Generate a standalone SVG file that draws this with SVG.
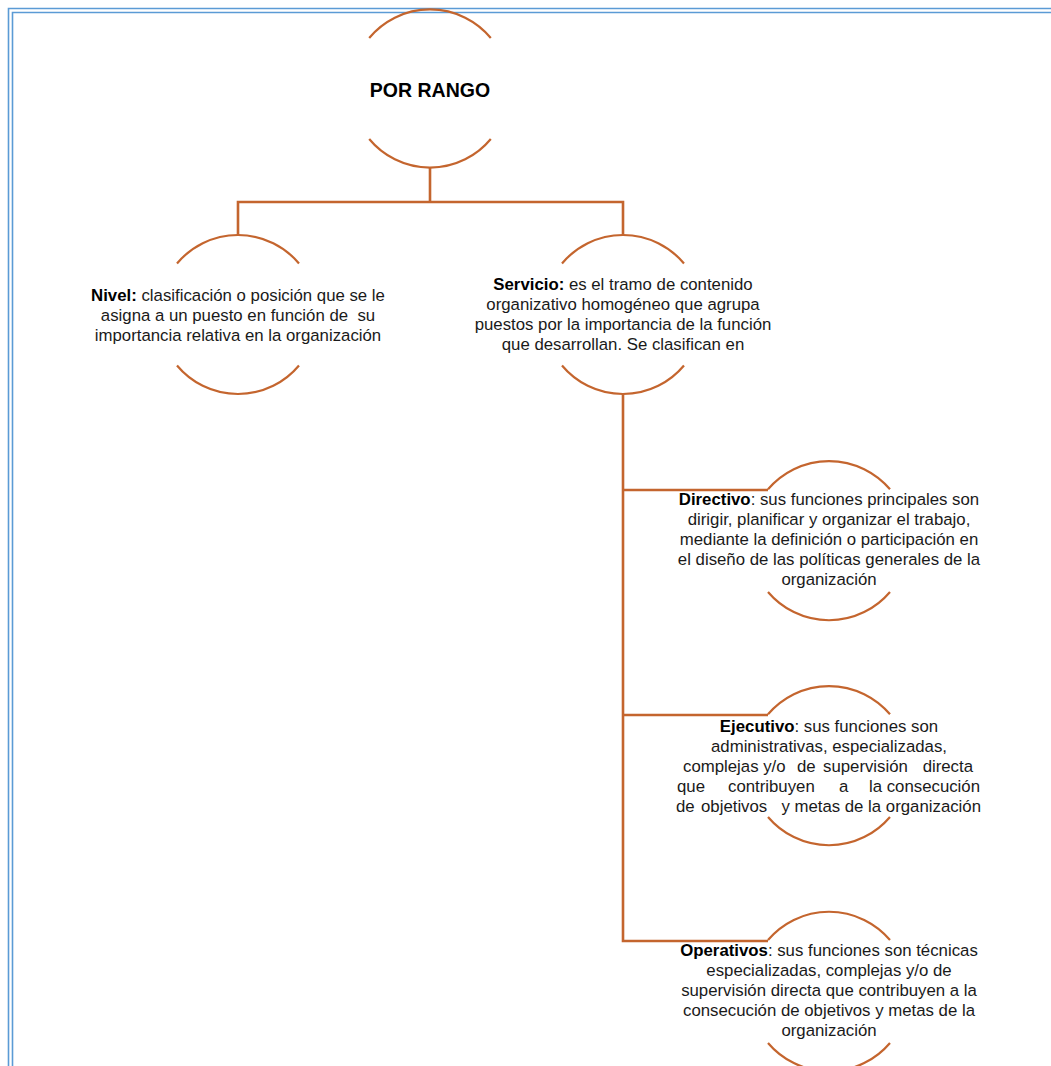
<svg xmlns="http://www.w3.org/2000/svg" width="1051" height="1066" viewBox="0 0 1051 1066">
<style>
.arc{fill:none;stroke:#C4652E;stroke-width:2.2}
.con{fill:none;stroke:#C4652E;stroke-width:2.6}
.bd{fill:none;stroke:#5B9BD5;stroke-width:1.6}
text{font-family:"Liberation Sans",Arial,sans-serif;font-size:16.8px;fill:#1a1a1a}
.c{text-anchor:middle}
.e{text-anchor:end}
.b{font-weight:bold;fill:#000}
.t{font-size:19.5px;font-weight:bold;fill:#000}
</style>
<rect width="1051" height="1066" fill="#fff"/>
<g id="border">
<path class="bd" d="M8.5,1066 V8.5 H1051"/>
<path class="bd" d="M12.5,1066 V12.5 H1051"/>
</g>
<g id="connectors">
<path class="con" d="M430,167.5 V202"/>
<path class="con" d="M238,235 V202 H623 V235"/>
<path class="con" d="M623,394 V941 H768"/>
<path class="con" d="M623,490 H768"/>
<path class="con" d="M623,715 H768"/>
</g>
<g id="node-root">
<path class="arc" d="M369.2,38 A79,79 0 0 1 490.8,38"/>
<path class="arc" d="M369.2,139 A79,79 0 0 0 490.8,139"/>
<text class="c t" x="430" y="96.5">POR RANGO</text>
</g>
<g id="node-nivel">
<path class="arc" d="M177,263.5 A79.5,79.5 0 0 1 299,263.5"/>
<path class="arc" d="M177,365.5 A79.5,79.5 0 0 0 299,365.5"/>
<text class="c" x="238" y="300.5"><tspan class="b">Nivel:</tspan> clasificación o posición que se le</text>
<text class="c" x="238" y="320.5" xml:space="preserve">asigna a un puesto en función de  su</text>
<text class="c" x="238" y="340.5">importancia relativa en la organización</text>
</g>
<g id="node-servicio">
<path class="arc" d="M562,263.5 A79.5,79.5 0 0 1 684,263.5"/>
<path class="arc" d="M562,365.5 A79.5,79.5 0 0 0 684,365.5"/>
<text class="c" x="623" y="290"><tspan class="b">Servicio:</tspan> es el tramo de contenido</text>
<text class="c" x="623" y="310">organizativo homogéneo que agrupa</text>
<text class="c" x="623" y="330">puestos por la importancia de la función</text>
<text class="c" x="623" y="350">que desarrollan. Se clasifican en</text>
</g>
<g id="node-directivo">
<path class="arc" d="M768,489.3 A80,80 0 0 1 890,489.3"/>
<path class="arc" d="M768,592 A80,80 0 0 0 890,592"/>
<text class="c" x="829" y="505"><tspan class="b">Directivo</tspan>: sus funciones principales son</text>
<text class="c" x="829" y="525">dirigir, planificar y organizar el trabajo,</text>
<text class="c" x="829" y="545">mediante la definición o participación en</text>
<text class="c" x="829" y="565">el diseño de las políticas generales de la</text>
<text class="c" x="829" y="585">organización</text>
</g>
<g id="node-ejecutivo">
<path class="arc" d="M768,714.3 A80,80 0 0 1 890,714.3"/>
<path class="arc" d="M768,817 A80,80 0 0 0 890,817"/>
<text class="c" x="829" y="731.5"><tspan class="b">Ejecutivo</tspan>: sus funciones son</text>
<text class="c" x="829" y="751.5">administrativas, especializadas,</text>
<text x="683" y="771.5">complejas y/o</text>
<text x="797" y="771.5">de</text>
<text x="823" y="771.5">supervisión</text>
<text class="e" x="973" y="771.5">directa</text>
<text x="677" y="791.5">que</text>
<text x="728" y="791.5">contribuyen</text>
<text x="839" y="791.5">a</text>
<text class="e" x="980" y="791.5">la consecución</text>
<text x="676" y="811.5">de</text>
<text x="701" y="811.5">objetivos</text>
<text class="e" x="981" y="811.5">y metas de la organización</text>
</g>
<g id="node-operativos">
<path class="arc" d="M768,940 A80,80 0 0 1 890,940"/>
<path class="arc" d="M768,1043 A80,80 0 0 0 890,1043"/>
<text class="c" x="829" y="956"><tspan class="b">Operativos</tspan>: sus funciones son técnicas</text>
<text class="c" x="829" y="976">especializadas, complejas y/o de</text>
<text class="c" x="829" y="996">supervisión directa que contribuyen a la</text>
<text class="c" x="829" y="1016">consecución de objetivos y metas de la</text>
<text class="c" x="829" y="1036">organización</text>
</g>
</svg>
